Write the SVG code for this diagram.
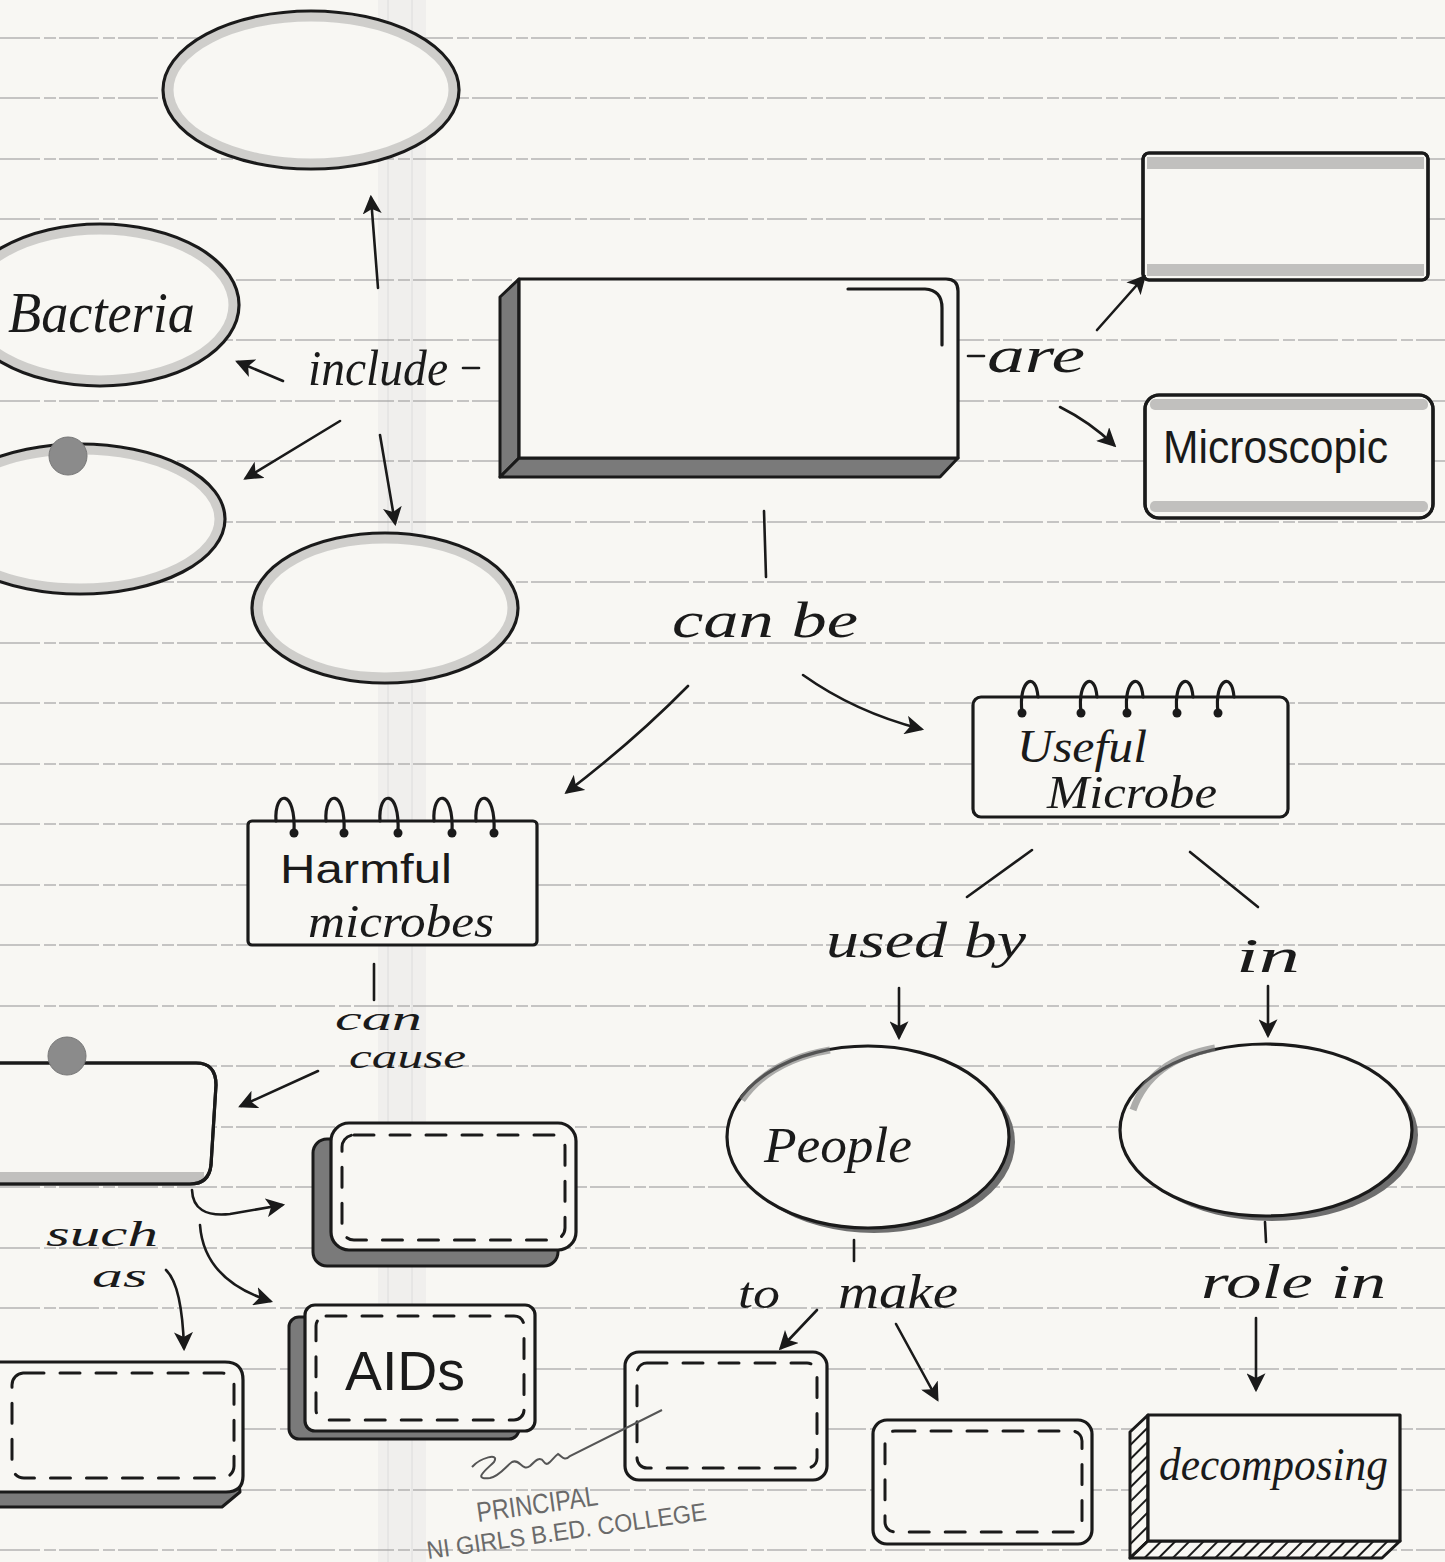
<svg xmlns="http://www.w3.org/2000/svg" width="1445" height="1562" viewBox="0 0 1445 1562">
<defs>
<style>
.ink{fill:none;stroke:#1a1a1a;stroke-width:3.2;stroke-linecap:round;stroke-linejoin:round}
.paperfill{fill:#f8f7f3;stroke:#1a1a1a;stroke-width:3.2;stroke-linejoin:round}
.depth{fill:#7a7a7a;stroke:#1a1a1a;stroke-width:3;stroke-linejoin:round}
.rim{fill:none;stroke:#8c8c8c;stroke-width:9;opacity:.38}
.band{fill:#8a8a8a;opacity:.5}
.dash{fill:none;stroke:#1a1a1a;stroke-width:3;stroke-dasharray:20 16;stroke-linecap:round}
.conn{fill:none;stroke:#1a1a1a;stroke-width:2.6;stroke-linecap:round}
.hw{font-family:"Liberation Serif","DejaVu Serif",serif;font-style:italic;fill:#1a1a1a}
.print{font-family:"Liberation Sans","DejaVu Sans",sans-serif;fill:#1a1a1a}
.stamp{font-family:"Liberation Sans","DejaVu Sans",sans-serif;fill:#6a6a6a}
.rule{stroke:#9e9e9e;stroke-width:1.6;stroke-dasharray:40 4 12 3;opacity:.75}
.hole{fill:#8b8b8b;stroke:#777;stroke-width:1}
</style>
<marker id="ah" viewBox="0 0 12 12" refX="10" refY="6" markerWidth="19" markerHeight="19" markerUnits="userSpaceOnUse" orient="auto">
<path d="M0,0 L12,6 L0,12 L3,6 z" fill="#1a1a1a"/>
</marker>
<pattern id="hatch" width="10" height="10" patternUnits="userSpaceOnUse" patternTransform="rotate(45)">
<rect width="10" height="10" fill="#f8f7f3"/>
<line x1="0" y1="0" x2="0" y2="10" stroke="#1a1a1a" stroke-width="4"/>
</pattern>
</defs>

<!-- paper -->
<rect x="0" y="0" width="1445" height="1562" fill="#f8f7f3"/>
<rect x="378" y="0" width="48" height="1562" fill="#e9e9e7" opacity="0.55"/>
<line x1="388" y1="0" x2="388" y2="1562" stroke="#dcdcdc" stroke-width="1"/>
<line x1="412" y1="0" x2="412" y2="1562" stroke="#dcdcdc" stroke-width="1"/>
<g id="rules">
<line class="rule" x1="0" y1="38" x2="1445" y2="38"/>
<line class="rule" x1="0" y1="98" x2="1445" y2="98"/>
<line class="rule" x1="0" y1="159" x2="1445" y2="159"/>
<line class="rule" x1="0" y1="219" x2="1445" y2="219"/>
<line class="rule" x1="0" y1="280" x2="1445" y2="280"/>
<line class="rule" x1="0" y1="340" x2="1445" y2="340"/>
<line class="rule" x1="0" y1="401" x2="1445" y2="401"/>
<line class="rule" x1="0" y1="461" x2="1445" y2="461"/>
<line class="rule" x1="0" y1="522" x2="1445" y2="522"/>
<line class="rule" x1="0" y1="582" x2="1445" y2="582"/>
<line class="rule" x1="0" y1="643" x2="1445" y2="643"/>
<line class="rule" x1="0" y1="703" x2="1445" y2="703"/>
<line class="rule" x1="0" y1="764" x2="1445" y2="764"/>
<line class="rule" x1="0" y1="824" x2="1445" y2="824"/>
<line class="rule" x1="0" y1="885" x2="1445" y2="885"/>
<line class="rule" x1="0" y1="945" x2="1445" y2="945"/>
<line class="rule" x1="0" y1="1006" x2="1445" y2="1006"/>
<line class="rule" x1="0" y1="1066" x2="1445" y2="1066"/>
<line class="rule" x1="0" y1="1127" x2="1445" y2="1127"/>
<line class="rule" x1="0" y1="1187" x2="1445" y2="1187"/>
<line class="rule" x1="0" y1="1248" x2="1445" y2="1248"/>
<line class="rule" x1="0" y1="1308" x2="1445" y2="1308"/>
<line class="rule" x1="0" y1="1369" x2="1445" y2="1369"/>
<line class="rule" x1="0" y1="1429" x2="1445" y2="1429"/>
<line class="rule" x1="0" y1="1490" x2="1445" y2="1490"/>
<line class="rule" x1="0" y1="1550" x2="1445" y2="1550"/>
</g>

<!-- nodes -->
<g id="node-top-ellipse">
<ellipse cx="311" cy="90" rx="148" ry="79" fill="#f8f7f3"/>
<ellipse class="rim" cx="311" cy="90" rx="142" ry="73"/>
<ellipse class="ink" cx="311" cy="90" rx="148" ry="79"/>
</g>

<g id="node-bacteria">
<ellipse cx="100" cy="305" rx="139" ry="81" fill="#f8f7f3"/>
<ellipse class="rim" cx="100" cy="305" rx="133" ry="75"/>
<ellipse class="ink" cx="100" cy="305" rx="139" ry="81"/>
<text class="hw" x="8" y="332" font-size="56" textLength="187" lengthAdjust="spacingAndGlyphs">Bacteria</text>
</g>

<g id="node-left-ellipse">
<ellipse cx="80" cy="519" rx="145" ry="75" fill="#f8f7f3"/>
<ellipse class="rim" cx="80" cy="519" rx="139" ry="69"/>
<ellipse class="ink" cx="80" cy="519" rx="145" ry="75"/>
<circle class="hole" cx="68" cy="456" r="19"/>
</g>

<g id="node-bottom-ellipse">
<ellipse cx="385" cy="608" rx="133" ry="75" fill="#f8f7f3"/>
<ellipse class="rim" cx="385" cy="608" rx="127" ry="69"/>
<ellipse class="ink" cx="385" cy="608" rx="133" ry="75"/>
</g>

<g id="node-central">
<polygon class="depth" points="519,279 500,297 500,477 519,458"/>
<polygon class="depth" points="519,458 958,458 940,477 500,477"/>
<path class="paperfill" d="M519,279 L946,279 Q958,279 958,291 L958,458 L519,458 Z"/>
<path class="ink" d="M848,289 L925,289 Q942,290 942,308 L942,345"/>
</g>

<g id="node-top-right">
<rect class="paperfill" x="1143" y="153" width="285" height="127" rx="6"/>
<rect class="band" x="1147" y="157" width="277" height="12"/>
<rect class="band" x="1147" y="264" width="277" height="12"/>
<rect class="ink" x="1143" y="153" width="285" height="127" rx="6"/>
</g>

<g id="node-microscopic">
<rect class="paperfill" x="1145" y="395" width="288" height="123" rx="14"/>
<rect class="band" x="1150" y="399" width="278" height="11" rx="5"/>
<rect class="band" x="1150" y="501" width="278" height="11" rx="5"/>
<rect class="ink" x="1145" y="395" width="288" height="123" rx="14"/>
<text class="print" x="1163" y="463" font-size="46" textLength="225" lengthAdjust="spacingAndGlyphs">Microscopic</text>
</g>

<g id="node-useful">
<rect class="paperfill" x="973" y="697" width="315" height="120" rx="8"/>
<path class="ink" d="M1022,712 C1018,680 1036,670 1038,697"/>
<path class="ink" d="M1081,712 C1077,680 1095,670 1097,697"/>
<path class="ink" d="M1127,712 C1123,680 1141,670 1143,697"/>
<path class="ink" d="M1177,712 C1173,680 1191,670 1193,697"/>
<path class="ink" d="M1218,712 C1214,680 1232,670 1234,697"/>
<circle cx="1022" cy="713" r="4.5" fill="#1a1a1a"/>
<circle cx="1081" cy="713" r="4.5" fill="#1a1a1a"/>
<circle cx="1127" cy="713" r="4.5" fill="#1a1a1a"/>
<circle cx="1177" cy="713" r="4.5" fill="#1a1a1a"/>
<circle cx="1218" cy="713" r="4.5" fill="#1a1a1a"/>
<text class="hw" x="1017" y="762" font-size="46" textLength="130" lengthAdjust="spacingAndGlyphs">Useful</text>
<text class="hw" x="1047" y="808" font-size="46" textLength="170" lengthAdjust="spacingAndGlyphs">Microbe</text>
</g>

<g id="node-harmful">
<rect class="paperfill" x="248" y="821" width="289" height="124" rx="4"/>
<path class="ink" d="M276,821 C274,790 296,788 294,832"/>
<path class="ink" d="M326,821 C324,790 346,788 344,832"/>
<path class="ink" d="M380,821 C378,790 400,788 398,832"/>
<path class="ink" d="M434,821 C432,790 454,788 452,832"/>
<path class="ink" d="M476,821 C474,790 496,788 494,832"/>
<circle cx="294" cy="833" r="4.5" fill="#1a1a1a"/>
<circle cx="344" cy="833" r="4.5" fill="#1a1a1a"/>
<circle cx="398" cy="833" r="4.5" fill="#1a1a1a"/>
<circle cx="452" cy="833" r="4.5" fill="#1a1a1a"/>
<circle cx="494" cy="833" r="4.5" fill="#1a1a1a"/>
<text class="print" x="280" y="883" font-size="40" textLength="172" lengthAdjust="spacingAndGlyphs">Harmful</text>
<text class="hw" x="308" y="937" font-size="46" textLength="186" lengthAdjust="spacingAndGlyphs">microbes</text>
</g>

<g id="node-disease-left">
<path class="paperfill" d="M-5,1063 L196,1063 Q216,1063 216,1085 L211,1165 Q209,1184 190,1184 L-5,1184 Z"/>
<rect class="band" x="0" y="1172" width="204" height="11"/>
<path class="ink" d="M-5,1063 L196,1063 Q216,1063 216,1085 L211,1165 Q209,1184 190,1184 L-5,1184"/>
<circle class="hole" cx="67" cy="1056" r="19"/>
</g>

<g id="node-cause-box">
<rect class="depth" x="313" y="1139" width="245" height="127" rx="14"/>
<rect class="paperfill" x="331" y="1123" width="245" height="127" rx="18"/>
<rect class="dash" x="342" y="1135" width="223" height="105" rx="12"/>
</g>

<g id="node-aids">
<rect class="depth" x="289" y="1317" width="230" height="122" rx="10"/>
<rect class="paperfill" x="305" y="1305" width="230" height="126" rx="10"/>
<rect class="dash" x="316" y="1316" width="208" height="104" rx="10"/>
<text class="print" x="345" y="1390" font-size="56" textLength="120" lengthAdjust="spacingAndGlyphs">AIDs</text>
</g>

<g id="node-such-as-box">
<path class="depth" d="M-5,1378 L226,1378 L240,1492 L222,1507 L-5,1507 Z"/>
<path class="paperfill" d="M-5,1362 L225,1362 Q243,1362 243,1380 L243,1476 Q243,1492 226,1492 L-5,1492 Z"/>
<rect class="dash" x="12" y="1373" width="222" height="105" rx="12"/>
</g>

<g id="node-people">
<ellipse cx="874" cy="1142" rx="141" ry="91" fill="#6e6e6e"/>
<ellipse class="paperfill" cx="868" cy="1137" rx="141" ry="91"/>
<path d="M742,1100 Q770,1060 830,1050" fill="none" stroke="#7a7a7a" stroke-width="7" opacity=".6"/>
<text class="hw" x="764" y="1162" font-size="50" textLength="148" lengthAdjust="spacingAndGlyphs">People</text>
</g>

<g id="node-role-ellipse">
<ellipse cx="1272" cy="1135" rx="146" ry="86" fill="#6e6e6e"/>
<ellipse class="paperfill" cx="1266" cy="1130" rx="146" ry="86"/>
<path d="M1133,1110 Q1150,1060 1215,1048" fill="none" stroke="#7a7a7a" stroke-width="7" opacity=".6"/>
</g>

<g id="node-make-1">
<rect class="paperfill" x="625" y="1352" width="202" height="128" rx="14"/>
<rect class="dash" x="637" y="1363" width="180" height="105" rx="10"/>
</g>

<g id="node-make-2">
<rect class="paperfill" x="873" y="1420" width="219" height="124" rx="14"/>
<rect class="dash" x="885" y="1431" width="197" height="101" rx="10"/>
</g>

<g id="node-decomposing">
<polygon points="1148,1415 1130,1432 1130,1558 1148,1541" fill="url(#hatch)" stroke="#1a1a1a" stroke-width="3" stroke-linejoin="round"/>
<polygon points="1148,1541 1400,1541 1382,1558 1130,1558" fill="url(#hatch)" stroke="#1a1a1a" stroke-width="3" stroke-linejoin="round"/>
<rect class="paperfill" x="1148" y="1415" width="252" height="126"/>
<text class="hw" x="1159" y="1480" font-size="46" textLength="229" lengthAdjust="spacingAndGlyphs">decomposing</text>
</g>

<!-- connectors -->
<g id="connectors">
<path class="conn" d="M378,288 L371,198" marker-end="url(#ah)"/>
<path class="conn" d="M283,381 L238,362" marker-end="url(#ah)"/>
<path class="conn" d="M340,421 L246,478" marker-end="url(#ah)"/>
<path class="conn" d="M380,435 L395,523" marker-end="url(#ah)"/>
<path class="conn" d="M463,368 L479,368"/>
<path class="conn" d="M968,356 L984,356"/>
<path class="conn" d="M1097,330 L1144,277" marker-end="url(#ah)"/>
<path class="conn" d="M1060,407 Q1090,422 1114,445" marker-end="url(#ah)"/>
<path class="conn" d="M764,511 L766,577"/>
<path class="conn" d="M688,686 Q635,740 567,792" marker-end="url(#ah)"/>
<path class="conn" d="M803,675 Q855,712 921,729" marker-end="url(#ah)"/>
<path class="conn" d="M374,964 L374,1000"/>
<path class="conn" d="M318,1071 L241,1106" marker-end="url(#ah)"/>
<path class="conn" d="M192,1190 Q193,1218 230,1214 L282,1205" marker-end="url(#ah)"/>
<path class="conn" d="M200,1225 Q204,1280 270,1301" marker-end="url(#ah)"/>
<path class="conn" d="M166,1270 Q182,1285 184,1348" marker-end="url(#ah)"/>
<path class="conn" d="M1032,850 L967,897"/>
<path class="conn" d="M1190,852 L1258,907"/>
<path class="conn" d="M899,988 L899,1037" marker-end="url(#ah)"/>
<path class="conn" d="M1268,986 L1268,1035" marker-end="url(#ah)"/>
<path class="conn" d="M854,1240 L854,1261"/>
<path class="conn" d="M817,1310 L781,1348" marker-end="url(#ah)"/>
<path class="conn" d="M896,1324 L937,1399" marker-end="url(#ah)"/>
<path class="conn" d="M1265,1222 L1266,1242"/>
<path class="conn" d="M1256,1318 L1256,1389" marker-end="url(#ah)"/>
</g>

<!-- link labels -->
<g id="labels">
<text class="hw" x="308" y="385" font-size="50" textLength="140" lengthAdjust="spacingAndGlyphs">include</text>
<text class="hw" x="987" y="372" font-size="50" textLength="98" lengthAdjust="spacingAndGlyphs">are</text>
<text class="hw" x="672" y="637" font-size="50" textLength="186" lengthAdjust="spacingAndGlyphs">can be</text>
<text class="hw" x="335" y="1030" font-size="34" textLength="87" lengthAdjust="spacingAndGlyphs">can</text>
<text class="hw" x="349" y="1068" font-size="34" textLength="117" lengthAdjust="spacingAndGlyphs">cause</text>
<text class="hw" x="46" y="1246" font-size="36" textLength="112" lengthAdjust="spacingAndGlyphs">such</text>
<text class="hw" x="92" y="1287" font-size="34" textLength="55" lengthAdjust="spacingAndGlyphs">as</text>
<text class="hw" x="826" y="957" font-size="50" textLength="200" lengthAdjust="spacingAndGlyphs">used by</text>
<text class="hw" x="1236" y="972" font-size="48" textLength="64" lengthAdjust="spacingAndGlyphs">in</text>
<text class="hw" x="738" y="1308" font-size="44" textLength="42" lengthAdjust="spacingAndGlyphs">to</text>
<text class="hw" x="838" y="1308" font-size="48" textLength="120" lengthAdjust="spacingAndGlyphs">make</text>
<text class="hw" x="1201" y="1298" font-size="48" textLength="185" lengthAdjust="spacingAndGlyphs">role in</text>
</g>

<!-- stamp and signature -->
<g id="stamp">
<path d="M472,1467 C480,1458 500,1452 494,1462 C486,1470 472,1480 490,1478 C500,1476 506,1466 512,1462 C520,1458 522,1472 530,1466 C536,1460 540,1456 544,1462 C548,1468 552,1458 558,1454 C562,1456 564,1462 570,1456 L662,1410" fill="none" stroke="#555" stroke-width="2"/>
<text class="stamp" x="478" y="1522" font-size="28" textLength="122" lengthAdjust="spacingAndGlyphs" transform="rotate(-8 478 1522)">PRINCIPAL</text>
<text class="stamp" x="428" y="1559" font-size="25" textLength="282" lengthAdjust="spacingAndGlyphs" transform="rotate(-8 428 1559)">NI GIRLS B.ED. COLLEGE</text>
</g>
</svg>
